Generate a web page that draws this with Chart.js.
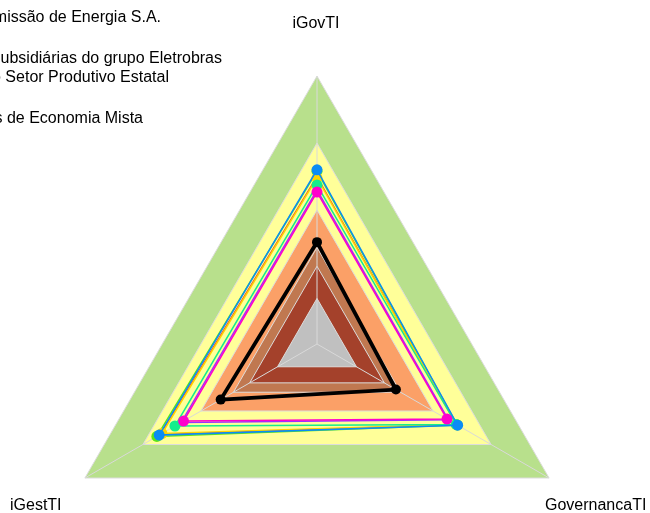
<!DOCTYPE html>
<html>
<head>
<meta charset="utf-8">
<script src="https://cdn.jsdelivr.net/npm/chart.js@4/dist/chart.umd.min.js"></script>
<style>
  html, body { margin: 0; padding: 0; background: #fff; overflow: hidden; }
  #wrap { width: 650px; height: 513px; overflow: hidden; }
</style>
</head>
<body>
<div id="wrap"><canvas id="myChart" width="650" height="612"></canvas></div>
<script>
// axes
const labels = ['iGovTI', 'GovernancaTI', 'iGestTI'];

// background bands (same value on every axis)
const band_green = [1, 1, 1];
const band_yellow = [0.75, 0.75, 0.75];
const band_orange = [0.5, 0.5, 0.5];
const band_brown = [0.36, 0.36, 0.36];
const band_darkred = [0.29, 0.29, 0.29];
const band_grey = [0.17, 0.17, 0.17];

// series, order: iGovTI, GovernancaTI, iGestTI
const datapoints_empresa = [0.38, 0.34, 0.415];
const datapoints_blue = [0.65, 0.606, 0.68];
const datapoints_magenta = [0.567, 0.56, 0.575];
const datapoints_spring = [0.593, 0.6, 0.612];
const datapoints_yellow = [0.62, 0.6, 0.668];
const datapoints_lime = [0.645, 0.604, 0.69];
const datapoints_red = [0.625, 0.602, 0.675];
const datapoints_purple = [0.575, 0.566, 0.585];

// legend text, only the right part is on screen (left side is cut)
const legend_texts = [
    'Companhia de Transmissão de Energia S.A.',
    'Média das empresas subsidiárias do grupo Eletrobras',
    'Média do Setor Produtivo Estatal',
    'Média das Sociedades de Economia Mista'
];

function series(label, values, color, radius, width) {
    return {
        label: label,
        data: values,
        borderColor: color,
        backgroundColor: color,
        borderWidth: width,
        pointRadius: radius,
        pointHoverRadius: radius,
        pointBorderWidth: 0,
        fill: false
    };
}

function band(values, color) {
    return {
        label: '',
        data: values,
        borderColor: '#dcdcdc',
        borderWidth: 1,
        backgroundColor: color,
        pointRadius: 0,
        fill: 'origin'
    };
}

const data = {
    labels: labels,
    datasets: [
        series(legend_texts[0], datapoints_empresa, '#000000', 5, 3.8),
        series('blue', datapoints_blue, '#0a8cf5', 5.5, 1.5),
        series('magenta', datapoints_magenta, '#ff00cc', 5.5, 1.5),
        series('spring', datapoints_spring, '#14ee8c', 5.5, 1.5),
        series('yellow', datapoints_yellow, '#ffd400', 5.5, 1.5),
        series('lime', datapoints_lime, '#5ee619', 5.5, 1.5),
        series('red', datapoints_red, '#e8403a', 0, 1.2),
        series('purple', datapoints_purple, '#9933ff', 0, 1.5),
        band(band_grey, '#c0c0c0'),
        band(band_darkred, '#a4412b'),
        band(band_brown, '#c07850'),
        band(band_orange, '#fba067'),
        band(band_yellow, '#ffff99'),
        band(band_green, '#b8e08c')
    ]
};

const GREY_BAND_INDEX = 8;

// spokes drawn right after the bands, under the series lines; texts at the end
const extras = {
    id: 'extras',
    afterDatasetDraw(chart, args) {
        if (args.index !== GREY_BAND_INDEX) return;
        const scale = chart.scales.r;
        const c = chart.ctx;
        c.save();
        c.strokeStyle = '#d9d9d9';
        c.lineWidth = 1;
        for (let i = 0; i < labels.length; i++) {
            const p = scale.getPointPosition(i, scale.drawingArea);
            c.beginPath();
            c.moveTo(scale.xCenter, scale.yCenter);
            c.lineTo(p.x, p.y);
            c.stroke();
        }
        c.restore();
    },
    afterDraw(chart) {
        const c = chart.ctx;
        c.save();
        c.fillStyle = '#000';
        c.font = '16px "Liberation Sans", Arial, sans-serif';
        c.textBaseline = 'alphabetic';
        // legend
        const ends = [161, 222, 169, 143];
        const bases = [22, 63, 82, 123];
        c.textAlign = 'right';
        legend_texts.forEach((t, i) => c.fillText(t, ends[i], bases[i]));
        // axis labels
        c.textAlign = 'center';
        c.fillText(labels[0], 316, 28);
        c.textAlign = 'left';
        c.fillText(labels[2], 10, 510);
        c.fillText(labels[1], 545, 510);
        c.restore();
    }
};

const config = {
    type: 'radar',
    data: data,
    options: {
        responsive: false,
        animation: false,
        layout: {
            padding: { left: 49, right: 65, top: 76, bottom: 0 }
        },
        plugins: {
            legend: { display: false },
            tooltip: { enabled: false }
        },
        elements: {
            line: { tension: 0 }
        },
        scales: {
            r: {
                min: 0,
                max: 1,
                ticks: { display: false },
                grid: { display: false },
                angleLines: { display: false },
                pointLabels: { display: false }
            }
        }
    },
    plugins: [extras]
};

const ctx = document.getElementById('myChart').getContext('2d');
new Chart(ctx, config);
</script>
</body>
</html>
